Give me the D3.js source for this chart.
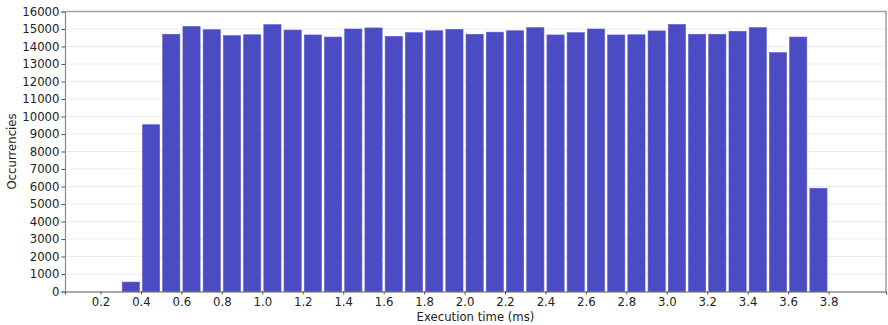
<!DOCTYPE html>
<html lang="en">
<head>
  <meta charset="UTF-8">
  <title>Execution time histogram</title>
  <style>
    body { margin: 0; background: #fff; }
    text { font-family: "DejaVu Sans", sans-serif; }
  </style>
</head>
<body>
  <script src="https://d3js.org/d3.v7.min.js"></script>
  <script>
    // bin start (ms), bin width 0.1
    const binStarts = [0.3, 0.4, 0.5, 0.6, 0.7, 0.8, 0.9, 1.0, 1.1, 1.2, 1.3, 1.4, 1.5, 1.6, 1.7, 1.8, 1.9, 2.0,
      2.1, 2.2, 2.3, 2.4, 2.5, 2.6, 2.7, 2.8, 2.9, 3.0, 3.1, 3.2, 3.3, 3.4, 3.5, 3.6, 3.7];
    const counts = [540, 9530, 14700, 15150, 14960, 14620, 14670, 15250, 14940, 14660, 14540, 15000, 15060, 14580,
      14790, 14900, 14980, 14700, 14820, 14900, 15080, 14660, 14790, 15000, 14660, 14670, 14890, 15260,
      14700, 14700, 14870, 15080, 13650, 14540, 5900];
    const xTicks = [0.2, 0.4, 0.6, 0.8, 1.0, 1.2, 1.4, 1.6, 1.8, 2.0, 2.2, 2.4, 2.6, 2.8, 3.0, 3.2, 3.4, 3.6, 3.8];
    const yTicks = d3.range(0, 16001, 1000);
    const binWidth = 0.1;

    const width = 888, height = 325;
    const margin = { top: 11.5, right: 2, bottom: 33.5, left: 65 };
    const barColor = '#4b4bc3';

    let svg = d3.select('body').append('svg')
      .attr('width', width)
      .attr('height', height);

    // scales
    let x = d3.scaleLinear().domain([0.0244, 4.084]).range([margin.left, width - margin.right]);
    let y = d3.scaleLinear().domain([0, 16000]).range([height - margin.bottom, margin.top]);

    // grid
    svg.append('g').classed('grid', true)
      .selectAll('line').data(yTicks.slice(1)).join('line')
      .attr('x1', margin.left).attr('x2', width - margin.right)
      .attr('y1', d => y(d)).attr('y2', d => y(d))
      .attr('stroke', '#ececec').attr('stroke-width', 1);

    // bars
    svg.append('g').classed('bar', true)
      .selectAll('rect').data(counts).join('rect')
      .attr('x', (d, i) => x(binStarts[i] + binWidth * 0.075))
      .attr('width', (d, i) => x(binStarts[i] + binWidth * 0.925) - x(binStarts[i] + binWidth * 0.075))
      .attr('y', d => y(d))
      .attr('height', d => y(0) - y(d))
      .attr('fill', barColor)
      .attr('stroke', '#5a5ac9')
      .attr('stroke-width', 0.6);

    // top / right frame
    svg.append('path')
      .attr('d', `M${margin.left},${margin.top}H${width - margin.right}V${height - margin.bottom}`)
      .attr('fill', 'none').attr('stroke', '#a0a0a0').attr('stroke-width', 1.5);

    // axes
    let xAxis = d3.axisBottom(x).tickValues(xTicks).tickFormat(d3.format('.1f')).tickSize(3).tickPadding(3);
    let yAxis = d3.axisLeft(y).tickValues(yTicks).tickFormat(d => d).tickSize(3.5).tickPadding(2);

    svg.append('g').attr('transform', `translate(0,${height - margin.bottom})`)
      .call(xAxis)
      .call(g => g.select('.domain').attr('stroke', '#555').attr('stroke-width', 1.2))
      .call(g => g.selectAll('.tick line').attr('stroke', '#555'))
      .call(g => g.selectAll('.tick text').attr('font-size', '11.7px').attr('fill', '#222')
        .style('font-family', 'DejaVu Sans'));

    svg.append('g').attr('transform', `translate(${margin.left},0)`)
      .call(yAxis)
      .call(g => g.select('.domain').attr('stroke', '#888').attr('stroke-width', 1.2))
      .call(g => g.selectAll('.tick line').attr('stroke', '#555'))
      .call(g => g.selectAll('.tick text').attr('font-size', '11.7px').attr('fill', '#222')
        .style('font-family', 'DejaVu Sans'));

    // labels
    svg.append('text')
      .attr('x', (margin.left + width - margin.right) / 2)
      .attr('y', height - 4)
      .attr('text-anchor', 'middle')
      .attr('font-size', '11.7px')
      .attr('fill', '#222')
      .text('Execution time (ms)');

    svg.append('text')
      .attr('transform', `translate(16,${(margin.top + height - margin.bottom) / 2}) rotate(-90)`)
      .attr('text-anchor', 'middle')
      .attr('font-size', '11.7px')
      .attr('fill', '#222')
      .text('Occurrencies');
  </script>
</body>
</html>
